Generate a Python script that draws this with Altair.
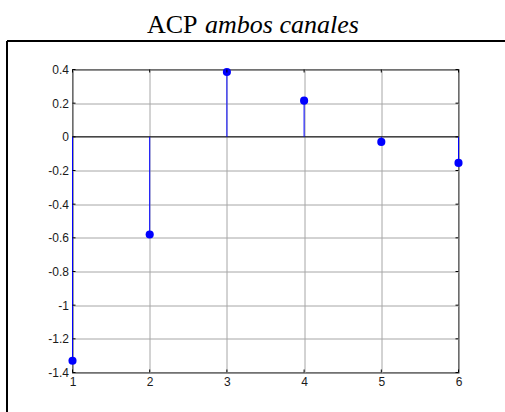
import altair as alt
import pandas as pd

# Component index and its coefficient
lags = [1, 2, 3, 4, 5, 6]
coefs = [-1.33, -0.58, 0.385, 0.215, -0.03, -0.155]

x_ticks = [1, 2, 3, 4, 5, 6]
y_ticks = [-1.4, -1.2, -1.0, -0.8, -0.6, -0.4, -0.2, 0.0, 0.2, 0.4]

W, H = 386, 303
LEFT, TOP = 72.5, 69.5

df = pd.DataFrame({"lag": lags, "coef": coefs, "base": [0] * len(lags)})
xt = pd.DataFrame({"v": x_ticks})
yt = pd.DataFrame({"v": y_ticks})

xs = alt.Scale(domain=[1, 6], nice=False, zero=False)
ys = alt.Scale(domain=[-1.4, 0.4], nice=False, zero=False)

label_expr = "datum.value == 0 ? '0' : toString(round(datum.value * 10) / 10)"

x_axis = alt.Axis(values=x_ticks, grid=True, domain=False, ticks=False,
                  labelPadding=4, labelExpr=label_expr,
                  labelOverlap=False, labelFlush=False, labelBound=False)
y_axis = alt.Axis(values=y_ticks, grid=True, domain=False, ticks=False,
                  labelPadding=4, labelExpr=label_expr,
                  labelOverlap=False, labelFlush=False, labelBound=False)


def xq(field):
    return alt.X(field, type="quantitative", scale=xs, title=None, axis=x_axis)


def yq(field):
    return alt.Y(field, type="quantitative", scale=ys, title=None, axis=y_axis)


base = alt.Chart(df)

zero_line = alt.Chart(pd.DataFrame({"z": [0]})).mark_rule(
    color="black", strokeWidth=1
).encode(y=yq("z"))

stems = base.mark_rule(color="#0000ff", strokeWidth=1).encode(
    x=xq("lag"), y=yq("base"), y2="coef:Q"
)
points = base.mark_circle(size=66, color="#0000ff", opacity=1).encode(
    x=xq("lag"), y=yq("coef")
)

# Inward ticks on all four sides of the box
tk = dict(color="black", strokeWidth=1)
xtick_b = alt.Chart(xt).mark_rule(**tk).encode(
    x=xq("v"), y=alt.value(H), y2=alt.value(H - 3))
xtick_t = alt.Chart(xt).mark_rule(**tk).encode(
    x=xq("v"), y=alt.value(0), y2=alt.value(3))
ytick_l = alt.Chart(yt).mark_rule(**tk).encode(
    y=yq("v"), x=alt.value(0), x2=alt.value(3))
ytick_r = alt.Chart(yt).mark_rule(**tk).encode(
    y=yq("v"), x=alt.value(W), x2=alt.value(W - 3))

# Title in two styles
t1 = alt.Chart(pd.DataFrame({"t": ["ACP"]})).mark_text(
    font="Liberation Serif", fontSize=26, align="right", baseline="alphabetic",
    color="black",
).encode(x=alt.value(197.5 - LEFT), y=alt.value(33.3 - TOP), text="t:N")
t2 = alt.Chart(pd.DataFrame({"t": ["ambos canales"]})).mark_text(
    font="Liberation Serif", fontSize=26, fontStyle="italic", align="left",
    baseline="alphabetic", color="black",
).encode(x=alt.value(205 - LEFT), y=alt.value(33.3 - TOP), text="t:N")

# Figure frame (top and left edges)
frame_top = alt.Chart(pd.DataFrame({"k": [0]})).mark_rule(
    color="black", strokeWidth=2
).encode(x=alt.value(7 - LEFT), x2=alt.value(510 - LEFT), y=alt.value(41 - TOP))
frame_left = alt.Chart(pd.DataFrame({"k": [0]})).mark_rule(
    color="black", strokeWidth=2
).encode(x=alt.value(7 - LEFT), y=alt.value(41 - TOP), y2=alt.value(420 - TOP))

chart = alt.layer(
    zero_line, stems, points, xtick_b, xtick_t, ytick_l, ytick_r,
    t1, t2, frame_top, frame_left,
).properties(
    width=W, height=H,
    autosize=alt.AutoSizeParams(type="none"),
    padding={"left": LEFT, "top": TOP, "right": 505 - LEFT - W, "bottom": 412 - TOP - H},
    background="white",
).configure_view(
    stroke="black", strokeWidth=1.2,
).configure_axis(
    gridColor="#a6a6a6", gridWidth=1, gridOpacity=1,
    labelFont="Liberation Sans", labelFontSize=12, labelColor="#1a1a1a",
)

chart.save("out.html", embed_options={"renderer": "svg", "actions": False})
